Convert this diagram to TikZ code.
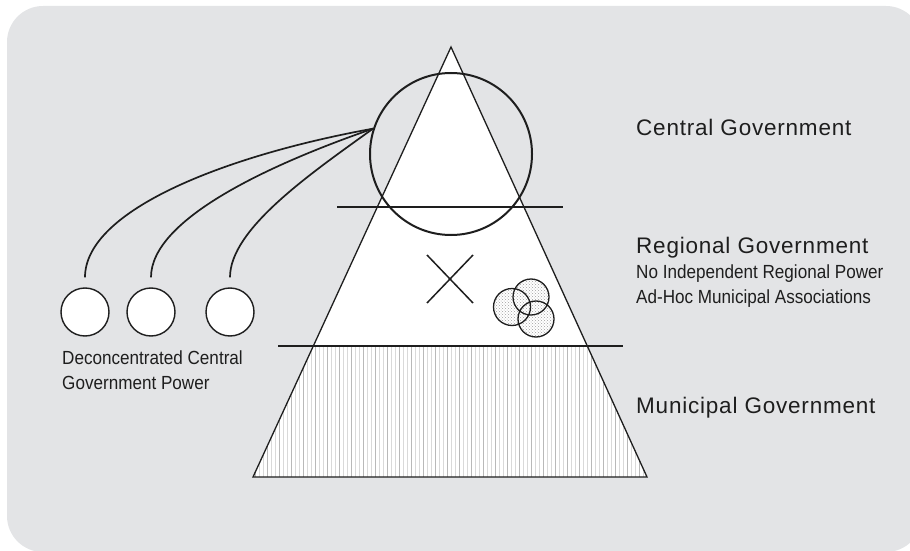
\documentclass[tikz,border=0pt]{standalone}
\usepackage{fontspec}
\setmainfont{Liberation Sans}
\newfontfamily\condfont[FakeStretch=0.9]{Liberation Sans}
\newfontfamily\widefont[LetterSpace=3.5]{Liberation Sans}
\usepackage{tikz}
\usetikzlibrary{positioning,patterns}
\definecolor{panel}{RGB}{227,228,230}
\definecolor{ink}{RGB}{30,30,30}

\begin{document}
\begin{tikzpicture}[x=1pt,y=1pt,
    level/.style={anchor=west,inner sep=0pt,text=ink,font=\widefont\fontsize{22.5}{26}\selectfont},
    note/.style={anchor=west,inner sep=0pt,text=ink,font=\condfont\fontsize{19}{25}\selectfont},
    outpost/.style={circle,draw=ink,fill=white,line width=1.4pt,minimum size=48pt,inner sep=0pt},
    blob/.style={circle,preaction={fill=white},pattern=crosshatch dots,pattern color=gray!75,minimum size=37pt,inner sep=0pt},
    link/.style={draw=ink,line width=1.7pt}]
    \useasboundingbox (0,0) rectangle (910,550);

    % panel
    \fill[panel,rounded corners=36pt] (7,-2) rectangle (922,544);

    % pyramid
    \coordinate (apex) at (451,503);
    \coordinate (bl) at (253,73);
    \coordinate (br) at (647,73);
    \fill[white] (apex) -- (bl) -- (br) -- cycle;
    \begin{scope}
        \clip (apex) -- (bl) -- (br) -- cycle;
        \foreach \k in {0,...,98} {
            \pgfmathtruncatemacro\shade{mod(\k,3)==0 ? 55 : 30}
            \draw[gray!\shade,line width=1pt] (255.5+4*\k,73) -- (255.5+4*\k,204);
        }
    \end{scope}
    \draw[ink,line width=1.3pt,line join=miter] (apex) -- (bl) -- (br) -- cycle;

    % tiers
    \draw[ink,line width=1.3pt] (337,343) -- (563,343);
    \draw[ink,line width=1.3pt] (278,204) -- (623,204);

    % central circle
    \node[circle,draw=ink,line width=2pt,minimum size=162pt,inner sep=0pt] (cg) at (451,396) {};

    % no regional power
    \draw[ink,line width=1.5pt] (427,295) -- (473,247);
    \draw[ink,line width=1.5pt] (427,247) -- (473,295);

    % municipal associations
    \node[blob] (ba) at (512,243) {};
    \node[blob,minimum size=36pt] (bb) at (531,253) {};
    \node[blob,minimum size=36pt] (bc) at (536,231) {};
    \draw[ink,line width=1.3pt] (512,243) circle (18.5) (531,253) circle (18) (536,231) circle (18);

    % deconcentrated power
    \node[outpost] (s1) at (85,238) {};
    \node[outpost] (s2) at (151,238) {};
    \node[outpost] (s3) at (230,238) {};
    \coordinate[above=10pt of s1] (t1);
    \coordinate[above=10pt of s2] (t2);
    \coordinate[above=10pt of s3] (t3);
    \draw[link] (t1) .. controls +(0,68) and +(-144,-26) .. (cg.162);
    \draw[link] (t2) .. controls +(0,58) and +(-104,-36) .. (cg.162);
    \draw[link] (t3) .. controls +(0,48) and +(-64,-46) .. (cg.162);

    % labels
    \node[level] (lc) at (636,423) {Central Government};
    \node[level] (lr) at (636,302) {Regional Government};
    \node[note] (ln) at (636,276) {No Independent Regional Power};
    \node[note] (la) at (636,251) {Ad-Hoc Municipal Associations};
    \node[level] (lm) at (636,142) {Municipal Government};
    \node[note,align=left] (ld) at (62,180) {Deconcentrated Central\\Government Power};
\end{tikzpicture}
\end{document}
